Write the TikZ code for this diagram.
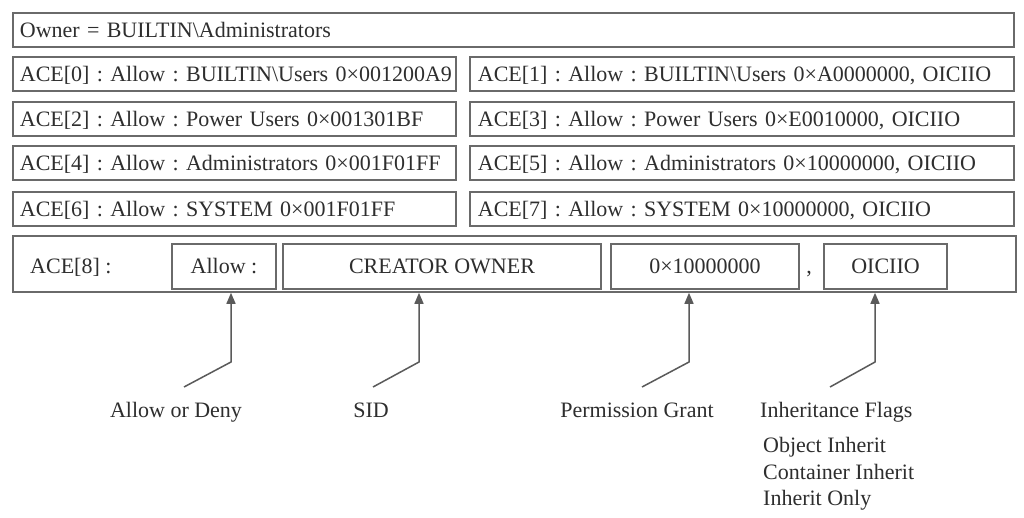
\documentclass[tikz,border=0pt]{standalone}
\usepackage{fontspec}
\setmainfont{Liberation Serif}
\usetikzlibrary{arrows.meta}
\frenchspacing
\definecolor{boxline}{HTML}{6A6A6A}
\definecolor{txt}{HTML}{2E2E2E}
\definecolor{arrline}{HTML}{5A5A5A}
\tikzset{
  every node/.style={font=\fontsize{22}{26}\selectfont\frenchspacing, text=txt, text height=15pt, text depth=0pt},
  lbox/.style={draw=boxline, line width=1.8pt, anchor=north west, inner ysep=0pt, inner xsep=7pt, minimum height=34pt, align=left, text width=#1},
  cbox/.style={draw=boxline, line width=1.8pt, inner sep=0pt, minimum height=45pt, minimum width=#1},
  plain/.style={inner sep=0pt},
  arr/.style={draw=arrline, line width=1.5pt, -{Triangle[length=11pt,width=9pt]}}
}
\begin{document}
\begin{tikzpicture}[x=1pt,y=-1pt]
\useasboundingbox (0,0) rectangle (1024,518);
\fill[white] (0,0) rectangle (1024,518);
% owner
\node[lbox=987pt] (owner) at (12,12) {\mbox{Owner = BUILTIN\textbackslash Administrators}};
% left column
\node[lbox=429pt] (a0) at (12,56) {\mbox{ACE[0] : Allow : BUILTIN\textbackslash Users 0×001200A9}};
\node[lbox=429pt] (a2) at (12,101) {\mbox{ACE[2] : Allow : Power Users 0×001301BF}};
\node[lbox=429pt] (a4) at (12,145.5) {\mbox{ACE[4] : Allow : Administrators 0×001F01FF}};
\node[lbox=429pt] (a6) at (12,191) {\mbox{ACE[6] : Allow : SYSTEM 0×001F01FF}};
% right column
\node[lbox=528pt, inner xsep=8pt] (a1) at (469,56) {\mbox{ACE[1] : Allow : BUILTIN\textbackslash Users 0×A0000000, OICIIO}};
\node[lbox=528pt, inner xsep=8pt] (a3) at (469,101) {\mbox{ACE[3] : Allow : Power Users 0×E0010000, OICIIO}};
\node[lbox=528pt, inner xsep=8pt] (a5) at (469,145.5) {\mbox{ACE[5] : Allow : Administrators 0×10000000, OICIIO}};
\node[lbox=528pt, inner xsep=8pt] (a7) at (469,191) {\mbox{ACE[7] : Allow : SYSTEM 0×10000000, OICIIO}};
% ACE 8
\node[draw=boxline, line width=1.8pt, anchor=north west, inner sep=0pt, minimum width=1003pt, minimum height=56pt] (a8) at (12,235) {};
\node[plain, anchor=west] (a8lbl) at (30,266) {ACE[8] :};
\node[cbox=104pt] (allow) at (224,266.5) {Allow :};
\node[cbox=318pt] (sid) at (442,266.5) {CREATOR OWNER};
\node[cbox=188pt] (perm) at (705,266.5) {0×10000000};
\node[plain, anchor=base, text height=, text depth=] (comma) at (809,274) {,};
\node[cbox=123pt] (flags) at (885.5,266.5) {OICIIO};
% labels
\node[plain] (lallow) at (176,410) {Allow or Deny};
\node[plain] (lsid) at (371,410) {SID};
\node[plain] (lperm) at (637,410) {Permission Grant};
\node[plain, anchor=west] (lflags) at (760,410) {Inheritance Flags};
\node[plain, anchor=west] (f1) at (763,445) {Object Inherit};
\node[plain, anchor=west] (f2) at (763,472) {Container Inherit};
\node[plain, anchor=west] (f3) at (763,498) {Inherit Only};
% connectors
\coordinate (s1) at (184,387); \coordinate (b1) at (231,362);
\coordinate (s2) at (373,387); \coordinate (b2) at (419,362);
\coordinate (s3) at (642,387); \coordinate (b3) at (689,362);
\coordinate (s4) at (830,387); \coordinate (b4) at (875,362);
\draw[arr] (s1) -- (b1) -- (b1 |- a8.south);
\draw[arr] (s2) -- (b2) -- (b2 |- a8.south);
\draw[arr] (s3) -- (b3) -- (b3 |- a8.south);
\draw[arr] (s4) -- (b4) -- (b4 |- a8.south);
\end{tikzpicture}
\end{document}
